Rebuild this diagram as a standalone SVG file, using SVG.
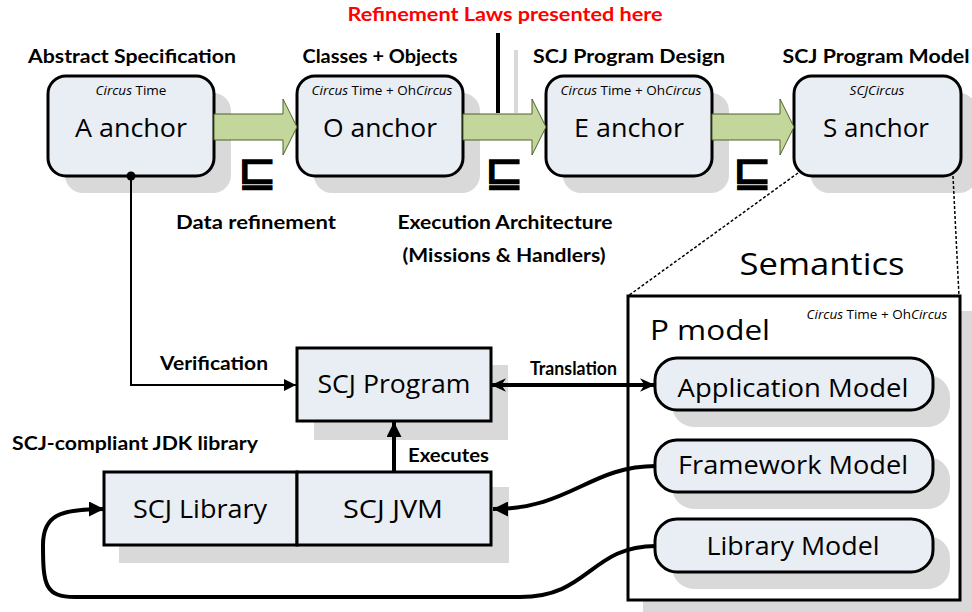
<svg xmlns="http://www.w3.org/2000/svg" width="972" height="612" viewBox="0 0 972 612">
<defs>
<style>
.shadow{fill:#d9d9d9;stroke:none}
.node{fill:#e9edf4;stroke:#000;stroke-width:3}
.big{font-family:"Open Sans","Liberation Sans",sans-serif;font-size:26px;fill:#000;text-anchor:middle}
.small{font-family:"Open Sans","Liberation Sans",sans-serif;font-size:13.5px;fill:#000;text-anchor:middle}
.lab{font-family:"Lato","Open Sans",sans-serif;font-weight:bold;font-size:19px;fill:#000}
.green{fill:#c3d69b;stroke:#4f6228;stroke-width:1}
.line{fill:none;stroke:#000}
.dot{fill:none;stroke:#000;stroke-width:1.5;stroke-dasharray:3 2}
.refine{font-family:"DejaVu Sans",sans-serif;font-size:40px;fill:#000;stroke:#000;stroke-width:1.5;text-anchor:middle}
</style>
<marker id="tri" viewBox="0 0 10 10" refX="10" refY="5" markerWidth="12" markerHeight="12" markerUnits="userSpaceOnUse" orient="auto-start-reverse">
<path d="M0,0 L10,5 L0,10 z" fill="#000"/>
</marker>
<marker id="triB" viewBox="0 0 10 10" refX="10" refY="5" markerWidth="15" markerHeight="15" markerUnits="userSpaceOnUse" orient="auto-start-reverse">
<path d="M0,0 L10,5 L0,10 z" fill="#000"/>
</marker>
<marker id="stealth" viewBox="0 0 10 10" refX="10" refY="5" markerWidth="15" markerHeight="15" markerUnits="userSpaceOnUse" orient="auto-start-reverse">
<path d="M0,0.5 L10,5 L0,9.5 L3,5 z" fill="#000"/>
</marker>
</defs>
<rect width="972" height="612" fill="#fff"/>

<text x="505" y="21" font-family="Lato,'Open Sans',sans-serif" font-weight="bold" font-size="19" fill="#ff0000" text-anchor="middle" textLength="315" lengthAdjust="spacingAndGlyphs">Refinement Laws presented here</text>

<g id="titles">
<text class="lab" x="132" y="63" text-anchor="middle" textLength="208" lengthAdjust="spacingAndGlyphs">Abstract Specification</text>
<text class="lab" x="380" y="63" text-anchor="middle" textLength="155" lengthAdjust="spacingAndGlyphs">Classes + Objects</text>
<text class="lab" x="629" y="63" text-anchor="middle" textLength="192" lengthAdjust="spacingAndGlyphs">SCJ Program Design</text>
<text class="lab" x="876" y="63" text-anchor="middle" textLength="187" lengthAdjust="spacingAndGlyphs">SCJ Program Model</text>
</g>

<g id="nodeA">
<rect class="shadow" x="65" y="93" width="166" height="100" rx="18"/>
<rect class="node" x="48" y="76" width="166" height="100" rx="18"/>
<text class="small" x="131" y="95"><tspan font-style="italic">Circus</tspan> Time</text>
<text class="big" x="131" y="137" textLength="112" lengthAdjust="spacingAndGlyphs">A anchor</text>
</g>
<g id="nodeO">
<rect class="shadow" x="314" y="93" width="166" height="100" rx="18"/>
<rect class="node" x="297" y="76" width="166" height="100" rx="18"/>
<text class="small" x="382" y="95"><tspan font-style="italic">Circus</tspan> Time + Oh<tspan font-style="italic">Circus</tspan></text>
<text class="big" x="380" y="137" textLength="114" lengthAdjust="spacingAndGlyphs">O anchor</text>
</g>
<g id="nodeE">
<rect class="shadow" x="563" y="93" width="166" height="100" rx="18"/>
<rect class="node" x="546" y="76" width="166" height="100" rx="18"/>
<text class="small" x="631" y="95"><tspan font-style="italic">Circus</tspan> Time + Oh<tspan font-style="italic">Circus</tspan></text>
<text class="big" x="629" y="137" textLength="110" lengthAdjust="spacingAndGlyphs">E anchor</text>
</g>
<g id="nodeS">
<rect class="shadow" x="811" y="93" width="166" height="100" rx="18"/>
<rect class="node" x="794" y="76" width="167" height="100" rx="18"/>
<text class="small" x="877" y="95" font-style="italic">SCJCircus</text>
<text class="big" x="876" y="137" textLength="106" lengthAdjust="spacingAndGlyphs">S anchor</text>
</g>

<g id="refinements">
<text class="refine" transform="translate(257,186) scale(1.15,1.02)" x="0" y="0">⊑</text>
<text class="refine" transform="translate(504,186) scale(1.15,1.02)" x="0" y="0">⊑</text>
<text class="refine" transform="translate(752,186) scale(1.15,1.02)" x="0" y="0">⊑</text>
<text class="lab" x="256" y="229" text-anchor="middle" textLength="160" lengthAdjust="spacingAndGlyphs">Data refinement</text>
<text class="lab" x="505" y="229" text-anchor="middle" textLength="215" lengthAdjust="spacingAndGlyphs">Execution Architecture</text>
<text class="lab" x="504" y="262" text-anchor="middle" textLength="203" lengthAdjust="spacingAndGlyphs">(Missions &amp; Handlers)</text>
</g>

<g id="semantics">
<rect class="shadow" x="643" y="311" width="340" height="310"/>
<rect x="628" y="296" width="332" height="304" fill="#fff" stroke="#000" stroke-width="3"/>
<text x="822" y="275" font-family="'Open Sans',sans-serif" font-size="31" text-anchor="middle" textLength="165" lengthAdjust="spacingAndGlyphs">Semantics</text>
<text x="650" y="340" font-family="'Open Sans',sans-serif" font-size="27" textLength="120" lengthAdjust="spacingAndGlyphs">P model</text>
<text class="small" x="877" y="319"><tspan font-style="italic">Circus</tspan> Time + Oh<tspan font-style="italic">Circus</tspan></text>
</g>
<g id="appModel">
<rect class="shadow" x="672" y="375" width="278" height="52" rx="22"/>
<rect class="node" x="655" y="358" width="278" height="52" rx="22"/>
<text class="big" x="793" y="397" textLength="231" lengthAdjust="spacingAndGlyphs">Application Model</text>
</g>
<g id="fwModel">
<rect class="shadow" x="672" y="457" width="278" height="52" rx="22"/>
<rect class="node" x="655" y="440" width="278" height="52" rx="22"/>
<text class="big" x="793" y="474" textLength="230" lengthAdjust="spacingAndGlyphs">Framework Model</text>
</g>
<g id="libModel">
<rect class="shadow" x="672" y="536" width="278" height="53" rx="22"/>
<rect class="node" x="655" y="519" width="278" height="53" rx="22"/>
<text class="big" x="793" y="555" textLength="173" lengthAdjust="spacingAndGlyphs">Library Model</text>
</g>

<g id="scjProgram">
<rect class="shadow" x="314" y="365" width="194" height="75"/>
<rect class="node" x="297" y="348" width="194" height="73" stroke-width="2.5"/>
<text class="big" x="394" y="393" textLength="153" lengthAdjust="spacingAndGlyphs">SCJ Program</text>
</g>
<g id="scjPlatform">
<text class="lab" x="12" y="450" textLength="246" lengthAdjust="spacingAndGlyphs">SCJ-compliant JDK library</text>
<rect class="shadow" x="119" y="487" width="390" height="76"/>
<g id="scjLibrary">
<rect class="node" x="104" y="472" width="193" height="73" stroke-width="2.5"/>
<text class="big" x="200" y="518" textLength="134" lengthAdjust="spacingAndGlyphs">SCJ Library</text>
</g>
<g id="scjJVM">
<rect class="node" x="297" y="472" width="194" height="73" stroke-width="2.5"/>
<text class="big" x="393" y="518" textLength="100" lengthAdjust="spacingAndGlyphs">SCJ JVM</text>
</g>
</g>

<g id="connectors">
<polygon class="green" points="214,114 283,114 283,99 297,127 283,155 283,140 214,140"/>
<polygon class="green" points="463,114 532,114 532,99 546,127 532,155 532,140 463,140"/>
<polygon class="green" points="712,114 780,114 780,99 794,127 780,155 780,140 712,140"/>
<line x1="516" y1="50" x2="516" y2="113" stroke="#d9d9d9" stroke-width="4"/>
<line x1="498" y1="33" x2="498" y2="113" stroke="#000" stroke-width="4"/>
<line class="dot" x1="798" y1="173" x2="628" y2="296"/>
<line class="dot" x1="953" y1="176" x2="959" y2="296"/>
<circle cx="131" cy="176" r="4.5" fill="#000"/>
<path class="line" stroke-width="2" d="M131,176 V385 H296" marker-end="url(#tri)"/>
<text class="lab" x="160" y="370" textLength="108" lengthAdjust="spacingAndGlyphs">Verification</text>
<path class="line" stroke-width="4" d="M491,385 H655" marker-start="url(#stealth)" marker-end="url(#stealth)"/>
<text class="lab" x="530" y="375" font-size="16" textLength="87" lengthAdjust="spacingAndGlyphs">Translation</text>
<path class="line" stroke-width="4" d="M394,472 V422" marker-end="url(#triB)"/>
<text class="lab" x="408" y="462" textLength="81" lengthAdjust="spacingAndGlyphs">Executes</text>
<path class="line" stroke-width="4" d="M656,466 C590,466 570,509 493,509" marker-end="url(#triB)"/>
<path class="line" stroke-width="4" d="M656,546 C590,546 590,597 520,597 L75,597 C45,597 43,585 43,545 C43,515 60,509 104,509" marker-end="url(#triB)"/>
</g>
</svg>
